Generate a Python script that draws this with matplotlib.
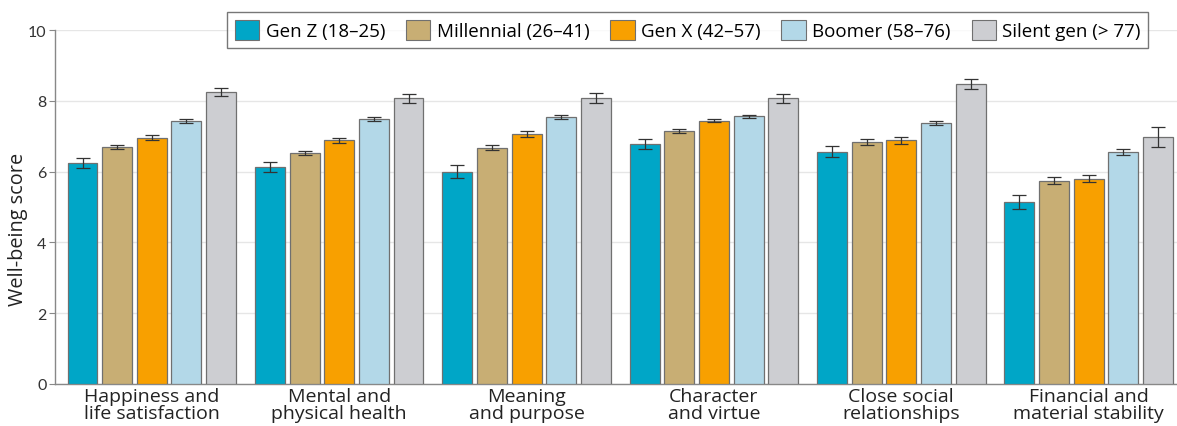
import matplotlib
matplotlib.use("Agg")
import matplotlib.pyplot as plt
import numpy as np
from matplotlib.patches import Patch

categories = ["Happiness and\nlife satisfaction", "Mental and\nphysical health",
              "Meaning\nand purpose", "Character\nand virtue",
              "Close social\nrelationships", "Financial and\nmaterial stability"]
series_names = ["Gen Z (18\u201325)", "Millennial (26\u201341)", "Gen X (42\u201357)",
                "Boomer (58\u201376)", "Silent gen (> 77)"]
gen_z      = [6.25, 6.13, 6.00, 6.79, 6.56, 5.14]
millennial = [6.70, 6.52, 6.67, 7.14, 6.83, 5.74]
gen_x      = [6.96, 6.89, 7.06, 7.44, 6.89, 5.80]
boomer     = [7.43, 7.48, 7.54, 7.56, 7.37, 6.56]
silent     = [8.25, 8.07, 8.08, 8.07, 8.47, 6.98]
err_gen_z      = [0.14, 0.14, 0.18, 0.14, 0.16, 0.19]
err_millennial = [0.06, 0.06, 0.07, 0.05, 0.08, 0.10]
err_gen_x      = [0.07, 0.07, 0.09, 0.05, 0.10, 0.10]
err_boomer     = [0.05, 0.05, 0.05, 0.05, 0.06, 0.08]
err_silent     = [0.12, 0.12, 0.13, 0.12, 0.14, 0.28]
yticks = [0, 2, 4, 6, 8, 10]

values = [gen_z, millennial, gen_x, boomer, silent]
errors = [err_gen_z, err_millennial, err_gen_x, err_boomer, err_silent]
colors = ["#00A6C7", "#C8AE74", "#F8A000", "#B3D8E8", "#CDCED2"]

plt.rcParams['font.family'] = ['Open Sans', 'DejaVu Sans']

fig = plt.figure(figsize=(11.77, 4.27), dpi=100)
ax = fig.add_axes([0.0467, 0.0984, 0.953, 0.829])

x = np.arange(len(categories))
pitch = 0.185
width = 0.16
for i, (vals, errs, c) in enumerate(zip(values, errors, colors)):
    pos = x + (i - 2) * pitch
    ax.bar(pos, vals, width=width, color=c, edgecolor="#707070", linewidth=0.9, zorder=3)
    ax.errorbar(pos, vals, yerr=errs, fmt="none", ecolor="#333333", elinewidth=0.9,
                capsize=5, capthick=0.9, zorder=4)

ax.set_xlim(-0.517, 5.47)
ax.set_ylim(0, 10)
ax.set_yticks(yticks)
ax.set_yticklabels([str(t) for t in yticks], fontsize=11.5, color="#333333", family=['Lato'])
ax.set_xticks(x)
ax.set_xticklabels(categories, fontsize=14, color="#222222", linespacing=0.95)
ax.tick_params(axis="x", length=0, pad=2)
ax.tick_params(axis="y", length=4, color="#888888", pad=2)
ax.set_ylabel("Well-being score", fontsize=14.3, color="#222222", labelpad=6)
ax.yaxis.set_label_coords(-0.024, 0.44)
ax.grid(axis="y", color="#E6E6E6", linewidth=1.0, zorder=0)
ax.set_axisbelow(True)
for s in ["top", "right"]:
    ax.spines[s].set_visible(False)
for s in ["left", "bottom"]:
    ax.spines[s].set_color("#888888")
    ax.spines[s].set_linewidth(1.0)

handles = [Patch(facecolor=c, edgecolor="#707070", linewidth=0.8) for c in colors]
leg = fig.legend(handles, series_names, loc="center", bbox_to_anchor=(0.5845, 0.927),
                 ncol=5, fontsize=13.5, frameon=True, fancybox=False,
                 edgecolor="#555555", handlelength=1.3, handleheight=1.3,
                 handletextpad=0.35, columnspacing=1.1, borderpad=0.4)
leg.get_frame().set_linewidth(1.0)

fig.savefig("out.png", dpi=100)
